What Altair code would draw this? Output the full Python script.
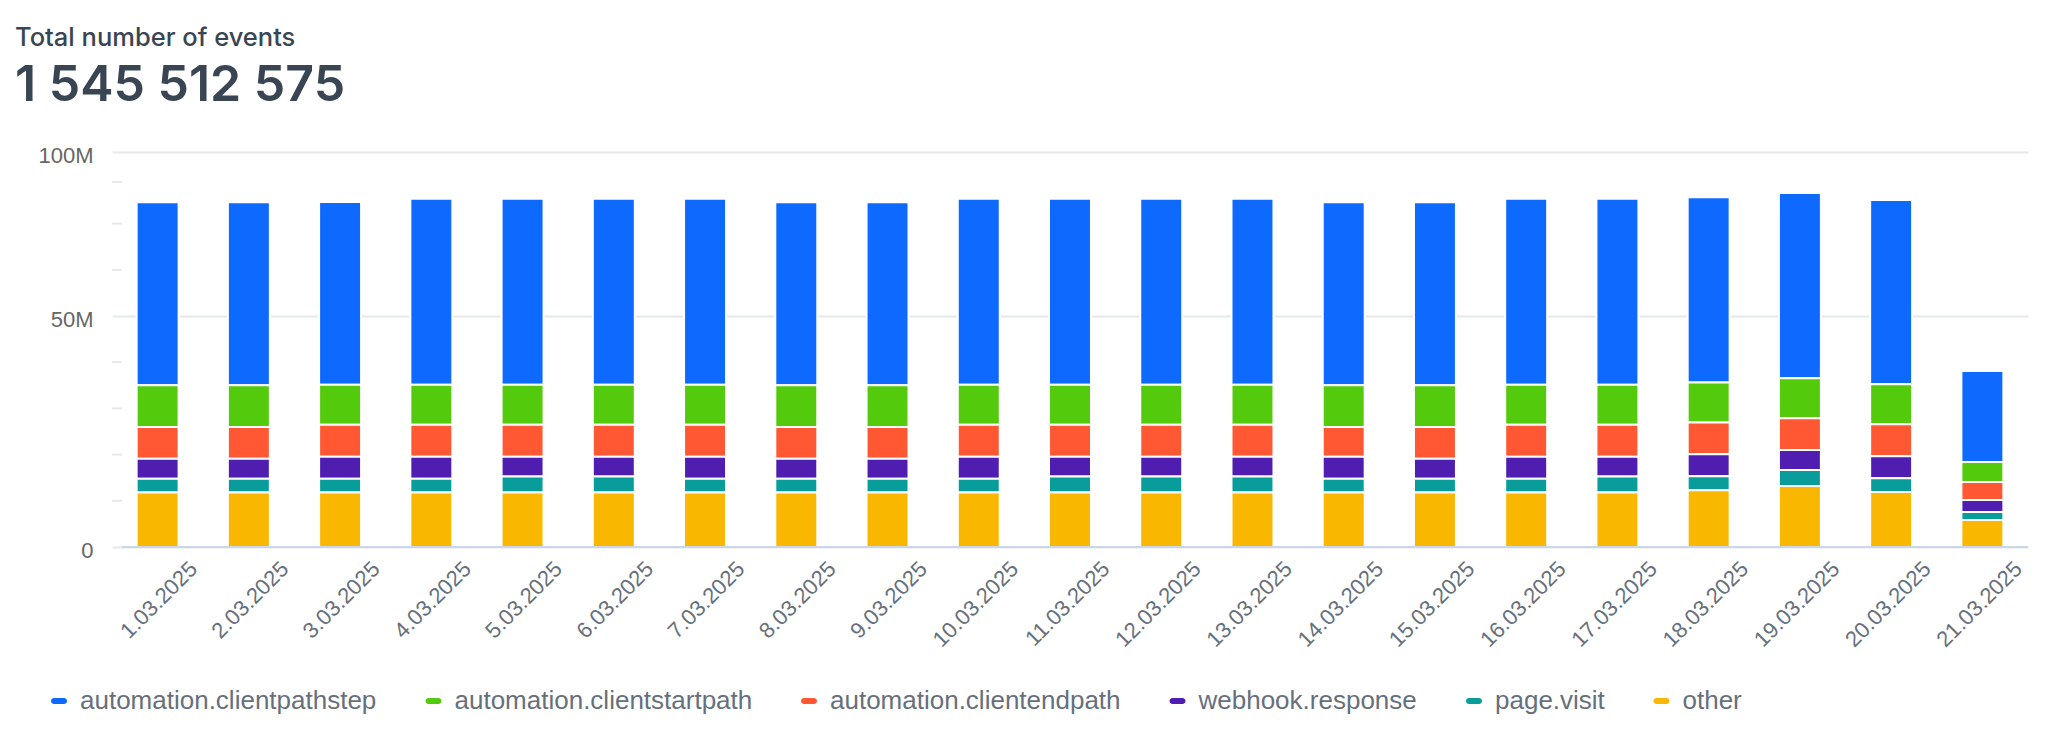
import altair as alt
import pandas as pd

# ---------------- data (values in millions of events) ----------------
dates = ["1.03.2025", "2.03.2025", "3.03.2025", "4.03.2025", "5.03.2025", "6.03.2025",
         "7.03.2025", "8.03.2025", "9.03.2025", "10.03.2025", "11.03.2025", "12.03.2025",
         "13.03.2025", "14.03.2025", "15.03.2025", "16.03.2025", "17.03.2025", "18.03.2025",
         "19.03.2025", "20.03.2025", "21.03.2025"]

series = ["automation.clientpathstep", "automation.clientstartpath", "automation.clientendpath",
          "webhook.response", "page.visit", "other"]
colors = ["#0e69ff", "#53ca0c", "#ff5833", "#4f1eb0", "#089c9b", "#f9b700"]

clientpathstep = [39.6, 39.6, 39.6, 40.3, 40.3, 40.3, 40.3, 39.6, 39.6, 40.3, 40.3, 40.3,
                  40.3, 39.6, 39.6, 40.3, 40.3, 40.1, 40.05, 39.9, 19.7]
clientstartpath = [9.0, 9.0, 8.65, 8.65, 8.65, 8.65, 8.65, 9.0, 9.0, 8.65, 8.65, 8.65,
                   8.65, 9.0, 9.0, 8.65, 8.65, 8.66, 8.66, 8.66, 4.33]
clientendpath = [6.9, 6.9, 6.9, 6.9, 6.9, 6.9, 6.9, 6.9, 6.9, 6.9, 6.9, 6.9,
                 6.9, 6.45, 6.9, 6.9, 6.9, 6.9, 6.9, 6.9, 3.9]
webhook_response = [4.3, 4.3, 4.75, 4.75, 4.3, 4.3, 4.75, 4.3, 4.3, 4.75, 4.3, 4.3,
                    4.3, 4.75, 4.3, 4.75, 4.3, 4.75, 4.33, 4.75, 2.6]
page_visit = [3.0, 3.0, 3.0, 3.0, 3.45, 3.45, 3.0, 3.0, 3.0, 3.0, 3.45, 3.45,
              3.45, 3.0, 3.0, 3.0, 3.45, 3.0, 3.46, 3.0, 1.73]
other = [11.8, 11.8, 11.8, 11.8, 11.8, 11.8, 11.8, 11.8, 11.8, 11.8, 11.8, 11.8,
         11.8, 11.8, 11.8, 11.8, 11.8, 12.3, 13.2, 11.9, 5.84]

title_text = "Total number of events"
total_text = "1 545 512 575"

y_tick_values = [0, 50e6, 85.5e6]
y_tick_labels = ["0", "50M", "100M"]
y_minor_ticks = [10e6, 20e6, 30e6, 40e6, 60e6, 70e6, 79e6]
y_max = 85.5e6

# ---------------- build table ----------------
series_values = [clientpathstep, clientstartpath, clientendpath, webhook_response, page_visit, other]
rows = []
for si, (name, vals) in enumerate(zip(series, series_values)):
    for d, v in zip(dates, vals):
        rows.append({"date": d, "series": name, "value": v * 1e6,
                     "stack_order": len(series) - 1 - si})
df = pd.DataFrame(rows)

label_expr = " : ".join(
    [f"datum.value == {v} ? '{t}'" for v, t in zip(y_tick_values[:-1], y_tick_labels[:-1])]
    + [f"'{y_tick_labels[-1]}'"]
)

W, H = 1916, 395
grid_color = "#e6e9e9"
axis_text = "#66707c"

capsule = ("M-0.625,-0.375 L0.625,-0.375 A0.375,0.375 0 0 1 0.625,0.375 "
           "L-0.625,0.375 A0.375,0.375 0 0 1 -0.625,-0.375 Z")

y_axis = alt.Axis(title=None, values=y_tick_values, labelExpr=label_expr,
                  grid=True, gridColor=grid_color, gridWidth=2,
                  ticks=False, domain=False, labelFontSize=22,
                  labelFont="Liberation Sans", labelColor="#666666",
                  labelPadding=19, labelBaseline="middle", labelOffset=3)

bars = alt.Chart(df).mark_bar(stroke="white", strokeWidth=2).encode(
    x=alt.X("date:N", sort=dates,
            scale=alt.Scale(paddingInner=0.54, paddingOuter=0.27),
            axis=alt.Axis(title=None, labelAngle=315, labelAlign="right", labelBaseline="middle",
                          labelFontSize=22, labelFont="Liberation Sans", labelColor=axis_text,
                          labelPadding=18, labelOffset=36, ticks=False, domain=False, grid=False)),
    y=alt.Y("value:Q", stack="zero", title=None,
            scale=alt.Scale(domain=[0, y_max], nice=False),
            axis=y_axis),
    color=alt.Color("series:N", sort=series,
                    scale=alt.Scale(domain=series, range=colors),
                    legend=alt.Legend(title=None, orient="none", legendX=-66, legendY=536,
                                      direction="horizontal", symbolType=capsule,
                                      symbolSize=256, symbolStrokeWidth=0,
                                      labelFontSize=26, labelFont="Liberation Sans",
                                      labelColor=axis_text, labelOffset=8, labelLimit=0,
                                      columnPadding=43.5)),
    order=alt.Order("stack_order:Q", sort="ascending"),
)

minor = alt.Chart(pd.DataFrame({"v": y_minor_ticks})).mark_rule(
    color=grid_color, strokeWidth=2
).encode(
    y=alt.Y("v:Q", title=None, axis=y_axis),
    x=alt.value(0), x2=alt.value(10),
)

zero_line = alt.Chart(pd.DataFrame({"z": [0]})).mark_rule(
    color="#ccd6eb", strokeWidth=2
).encode(
    y=alt.Y("z:Q", title=None, axis=y_axis),
    x=alt.value(10), x2=alt.value(W),
)

chart = alt.layer(bars, minor, zero_line).properties(
    width=W, height=H,
    autosize=alt.AutoSizeParams(type="none"),
    padding={"left": 104, "top": 144, "right": 24, "bottom": 172},
    title=alt.TitleParams(text=title_text, subtitle=total_text, anchor="start", frame="group",
                          dx=-97, offset=33.5, font="Inter", fontSize=25.5, fontWeight=500,
                          color="#3a4553", subtitleFont="Inter", subtitleFontSize=50,
                          subtitleFontWeight=600, subtitleColor="#3a4553",
                          subtitlePadding=9.5),
).configure_view(stroke=None)

chart.save("out.html", embed_options={"renderer": "svg", "actions": False})
